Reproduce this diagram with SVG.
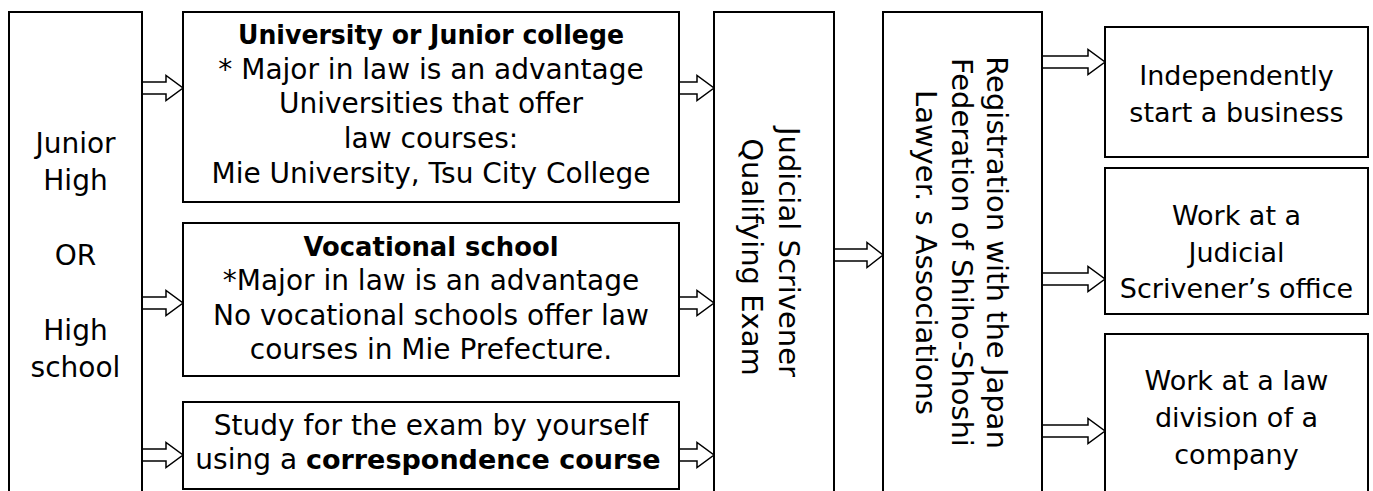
<svg xmlns="http://www.w3.org/2000/svg" width="1373" height="491" viewBox="0 0 1373 491">
<style>
  .box { fill: #ffffff; stroke: #000000; stroke-width: 2; }
  .arr { fill: #ffffff; stroke: #000000; stroke-width: 1.5; stroke-linejoin: miter; }
  text { font-family: "DejaVu Sans", "Liberation Sans", sans-serif; fill: #000000; text-anchor: middle; }
  .t28 { font-size: 28px; }
  .t27 { font-size: 27px; }
  .t29 { font-size: 29px; }
  .b { font-weight: bold; }
</style>
<rect x="0" y="0" width="1373" height="491" fill="#ffffff"/>

<g id="connectors">
  <path class="arr" d="M142,82 H166 V75.5 L183,88 L166,100.5 V94 H142"/>
  <path class="arr" d="M142,297 H166 V290.5 L183,303 L166,315.5 V309 H142"/>
  <path class="arr" d="M142,449 H166 V442.5 L183,455 L166,467.5 V461 H142"/>
  <path class="arr" d="M679,82 H697 V75.5 L714,88 L697,100.5 V94 H679"/>
  <path class="arr" d="M679,297 H697 V290.5 L714,303 L697,315.5 V309 H679"/>
  <path class="arr" d="M679,449 H697 V442.5 L714,455 L697,467.5 V461 H679"/>
  <path class="arr" d="M834,249 H867 V242.5 L883,255 L867,267.5 V261 H834"/>
  <path class="arr" d="M1042,56 H1088 V49.5 L1105,62 L1088,74.5 V68 H1042"/>
  <path class="arr" d="M1042,273 H1088 V266.5 L1105,279 L1088,291.5 V285 H1042"/>
  <path class="arr" d="M1042,425 H1088 V418.5 L1105,431 L1088,443.5 V437 H1042"/>
</g>

<g id="school">
  <rect class="box" x="9" y="12" width="133" height="500"/>
  <text class="t28" x="75.5" y="153">Junior</text>
  <text class="t28" x="75.5" y="190">High</text>
  <text class="t28" x="75.5" y="265">OR</text>
  <text class="t28" x="75.5" y="340">High</text>
  <text class="t28" x="75.5" y="377">school</text>
</g>

<g id="university">
  <rect class="box" x="183" y="12" width="496" height="190"/>
  <text class="t27 b" x="431" y="44" textLength="386" lengthAdjust="spacingAndGlyphs">University or Junior college</text>
  <text class="t28" x="431" y="79">* Major in law is an advantage</text>
  <text class="t28" x="431" y="113">Universities that offer</text>
  <text class="t28" x="431" y="148">law courses:</text>
  <text class="t28" x="431" y="183">Mie University, Tsu City College</text>
</g>

<g id="vocational">
  <rect class="box" x="183" y="223" width="496" height="153"/>
  <text class="t27 b" x="431" y="256" textLength="255" lengthAdjust="spacingAndGlyphs">Vocational school</text>
  <text class="t28" x="431" y="290">*Major in law is an advantage</text>
  <text class="t28" x="431" y="325">No vocational schools offer law</text>
  <text class="t28" x="431" y="359">courses in Mie Prefecture.</text>
</g>

<g id="self-study">
  <rect class="box" x="183" y="402" width="496" height="87"/>
  <text class="t28" x="431" y="435">Study for the exam by yourself</text>
  <text class="t28" x="428" y="469">using a <tspan class="b" font-size="27">correspondence course</tspan></text>
</g>

<g id="exam">
  <rect class="box" x="714" y="12" width="120" height="500"/>
  <text class="t29" transform="translate(779,252) rotate(90)">Judicial Scrivener</text>
  <text class="t29" transform="translate(742,257) rotate(90)">Qualifying Exam</text>
</g>

<g id="registration">
  <rect class="box" x="883" y="12" width="159" height="500"/>
  <text class="t29" transform="translate(987,252.5) rotate(90)">Registration with the Japan</text>
  <text class="t29" transform="translate(952,252.5) rotate(90)">Federation of Shiho-Shoshi</text>
  <text class="t29" transform="translate(916,252.5) rotate(90)">Lawyer. s Associations</text>
</g>

<g id="independent">
  <rect class="box" x="1105" y="27" width="263" height="130"/>
  <text class="t27" x="1236.5" y="85">Independently</text>
  <text class="t27" x="1236.5" y="122">start a business</text>
</g>

<g id="scrivener-office">
  <rect class="box" x="1105" y="168" width="263" height="146"/>
  <text class="t27" x="1236.5" y="225">Work at a</text>
  <text class="t27" x="1236.5" y="262">Judicial</text>
  <text class="t27" x="1236.5" y="298">Scrivener’s office</text>
</g>

<g id="company">
  <rect class="box" x="1105" y="334" width="263" height="180"/>
  <text class="t27" x="1236.5" y="390">Work at a law</text>
  <text class="t27" x="1236.5" y="427">division of a</text>
  <text class="t27" x="1236.5" y="464">company</text>
</g>
</svg>
